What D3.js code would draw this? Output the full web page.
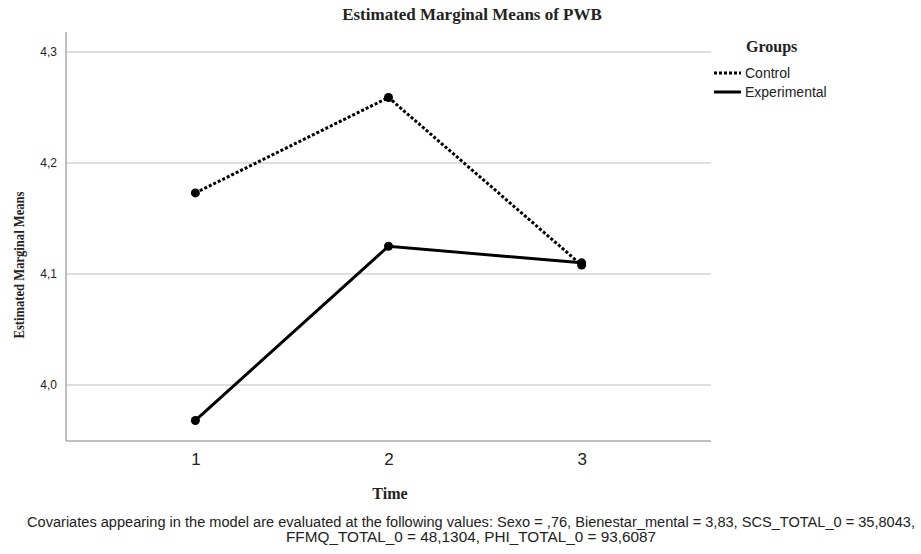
<!DOCTYPE html>
<html>
<head>
<meta charset="utf-8">
<script src="https://cdn.jsdelivr.net/npm/d3@7"></script>
<style>
  body { margin: 0; background: #fff; }
  svg { display: block; }
  .tick text { font-family: "Liberation Sans", Arial, sans-serif; fill: #222; }
</style>
</head>
<body>
<svg id="chart"></svg>
<script>
// values
let times = ["1", "2", "3"];
let groups = ["Control", "Experimental"];
let control = [4.173, 4.259, 4.108];
let experimental = [3.968, 4.125, 4.110];
let yTicks = [4.0, 4.1, 4.2, 4.3];
let footnote = [
  "Covariates appearing in the model are evaluated at the following values: Sexo = ,76, Bienestar_mental = 3,83, SCS_TOTAL_0 = 35,8043,",
  "FFMQ_TOTAL_0 = 48,1304, PHI_TOTAL_0 = 93,6087"
];

const width = 921;
const height = 554;

let svg = d3.select("svg#chart")
  .attr("width", width)
  .attr("height", height);

let margin = { top: 32, right: 210, bottom: 113, left: 66 };
let plotWidth = width - margin.left - margin.right;
let plotHeight = height - margin.top - margin.bottom;

let xScale = d3.scalePoint()
  .domain(times)
  .range([0, plotWidth])
  .padding(0.67);

let yScale = d3.scaleLinear()
  .domain([3.9495, 4.318])
  .range([plotHeight, 0]);

let plot = svg.append("g")
  .attr("transform", "translate(" + margin.left + "," + margin.top + ")");

// gridlines
plot.selectAll("line.grid")
  .data(yTicks)
  .enter().append("line")
  .attr("class", "grid")
  .attr("x1", 0)
  .attr("x2", plotWidth)
  .attr("y1", d => yScale(d))
  .attr("y2", d => yScale(d))
  .attr("stroke", "#d4d4d4")
  .attr("stroke-width", 1.5);

let fmt = d => d3.format(".1f")(d).replace(".", ",");

let yAxis = d3.axisLeft(yScale).tickValues(yTicks).tickFormat(fmt).tickSize(0).tickPadding(9);
let yGroup = plot.append("g").call(yAxis);
yGroup.select(".domain").remove();
yGroup.selectAll("text").attr("font-size", 12);

let xAxis = d3.axisBottom(xScale).tickSize(0).tickPadding(12);
let xGroup = plot.append("g")
  .attr("transform", "translate(0," + plotHeight + ")")
  .call(xAxis);
xGroup.select(".domain").remove();
xGroup.selectAll("text").attr("font-size", 17).attr("fill", "#333");

// axis lines
plot.append("line")
  .attr("x1", 0).attr("x2", 0)
  .attr("y1", 0).attr("y2", plotHeight)
  .attr("stroke", "#aaaaaa").attr("stroke-width", 1.5);
plot.append("line")
  .attr("x1", 0).attr("x2", plotWidth)
  .attr("y1", plotHeight).attr("y2", plotHeight)
  .attr("stroke", "#aaaaaa").attr("stroke-width", 1.5);

let series = [
  { name: groups[0], values: control, dash: "3,2" },
  { name: groups[1], values: experimental, dash: null }
];

let line = d3.line()
  .x((d, i) => xScale(times[i]))
  .y(d => yScale(d));

series.forEach(function(s) {
  plot.append("path")
    .datum(s.values)
    .attr("d", line)
    .attr("fill", "none")
    .attr("stroke", "#000")
    .attr("stroke-width", 3)
    .attr("stroke-dasharray", s.dash);
  plot.selectAll(null)
    .data(s.values)
    .enter().append("circle")
    .attr("cx", (d, i) => xScale(times[i]))
    .attr("cy", d => yScale(d))
    .attr("r", 4.5)
    .attr("fill", "#000");
});

// title and axis titles
svg.append("text")
  .attr("x", 472).attr("y", 20)
  .attr("text-anchor", "middle")
  .attr("font-family", "Liberation Serif, Times New Roman, serif")
  .attr("font-weight", "bold")
  .attr("font-size", 17)
  .attr("fill", "#222")
  .text("Estimated Marginal Means of PWB");

svg.append("text")
  .attr("x", 390).attr("y", 499)
  .attr("text-anchor", "middle")
  .attr("font-family", "Liberation Serif, Times New Roman, serif")
  .attr("font-weight", "bold")
  .attr("font-size", 16)
  .attr("fill", "#222")
  .text("Time");

svg.append("text")
  .attr("transform", "translate(24,265) rotate(-90)")
  .attr("text-anchor", "middle")
  .attr("font-family", "Liberation Serif, Times New Roman, serif")
  .attr("font-weight", "bold")
  .attr("font-size", 15)
  .attr("fill", "#222")
  .attr("textLength", 147)
  .attr("lengthAdjust", "spacingAndGlyphs")
  .text("Estimated Marginal Means");

// legend
let legend = svg.append("g").attr("transform", "translate(714,0)");
legend.append("text")
  .attr("x", 32).attr("y", 52)
  .attr("font-family", "Liberation Serif, Times New Roman, serif")
  .attr("font-weight", "bold")
  .attr("font-size", 16)
  .attr("fill", "#222")
  .text("Groups");
series.forEach(function(s, i) {
  let y = 73 + i * 19;
  legend.append("line")
    .attr("x1", 0).attr("x2", 27)
    .attr("y1", y).attr("y2", y)
    .attr("stroke", "#000")
    .attr("stroke-width", 3)
    .attr("stroke-dasharray", s.dash);
  legend.append("text")
    .attr("x", 31).attr("y", y + 5)
    .attr("font-family", "Liberation Sans, Arial, sans-serif")
    .attr("font-size", 14)
    .attr("fill", "#222")
    .text(s.name);
});

// footnote
svg.selectAll("text.foot")
  .data(footnote)
  .enter().append("text")
  .attr("class", "foot")
  .attr("x", 471)
  .attr("y", (d, i) => 527 + i * 15)
  .attr("text-anchor", "middle")
  .attr("font-family", "Liberation Sans Narrow, Arial Narrow, Liberation Sans, sans-serif")
  .attr("font-size", 14)
  .attr("fill", "#222")
  .attr("textLength", (d, i) => i === 0 ? 888 : 370)
  .attr("lengthAdjust", "spacingAndGlyphs")
  .text(d => d);
</script>
</body>
</html>
